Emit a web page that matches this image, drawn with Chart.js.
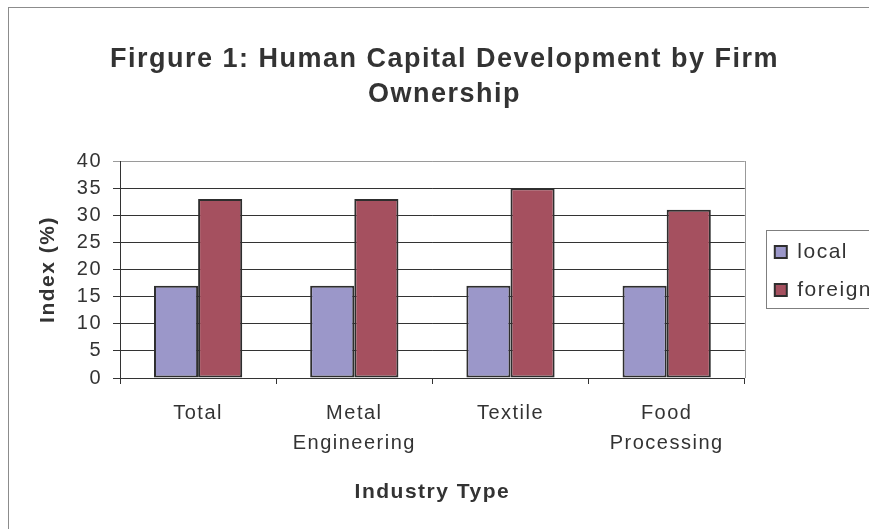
<!DOCTYPE html>
<html>
<head>
    <meta charset="utf-8">
    <title>Human Capital Development by Firm Ownership</title>
    <style>
        body {
            margin: 0;
            background: #ffffff;
        }
        #wrap {
            width: 869px;
            height: 529px;
        }
    </style>
    <script src="https://cdn.jsdelivr.net/npm/chart.js@4.4.1/dist/chart.umd.min.js"></script>
</head>
<body>
    <div id="wrap"><canvas id="hcChart" width="869" height="529"></canvas></div>
    <script>
        const industries = [['Total'], ['Metal', 'Engineering'], ['Textile'], ['Food', 'Processing']];
        const localIndex = [17, 17, 17, 17];
        const foreignIndex = [33, 33, 35, 31];
        const yTicks = [0, 5, 10, 15, 20, 25, 30, 35, 40];

        const SPACING = '1.5px';
        const textColor = '#333333';

        // excel-ish look: letter spacing, outer frame, legend box, right plot edge
        const excelLook = {
            id: 'excelLook',
            beforeUpdate(chart) {
                chart.ctx.letterSpacing = SPACING;
            },
            afterLayout(chart) {
                const lg = chart.legend;
                if (lg) {
                    lg.left += 13;
                    lg.right += 13;
                    lg.top += 1.5;
                    lg.bottom += 1.5;
                }
            },
            beforeDraw(chart) {
                const ctx = chart.ctx;
                ctx.letterSpacing = SPACING;
                ctx.save();
                ctx.fillStyle = '#ffffff';
                ctx.fillRect(0, 0, chart.width, chart.height);
                ctx.strokeStyle = '#8c8c8c';
                ctx.lineWidth = 1;
                ctx.strokeRect(8.5, 7.5, chart.width + 20, chart.height + 20);
                ctx.restore();
            },
            afterDraw(chart) {
                const ctx = chart.ctx;
                const a = chart.chartArea;
                ctx.save();
                ctx.strokeStyle = '#999999';
                ctx.lineWidth = 1;
                ctx.beginPath();
                ctx.moveTo(Math.round(a.right) + 0.5, a.top);
                ctx.lineTo(Math.round(a.right) + 0.5, a.bottom);
                ctx.stroke();

                const hb = chart.legend && chart.legend.legendHitBoxes;
                if (hb && hb.length) {
                    const last = hb[hb.length - 1];
                    const x0 = Math.round(hb[0].left - 9) + 0.5;
                    const y0 = Math.round(hb[0].top - 11.5) + 0.5;
                    const y1 = Math.round(last.top + last.height + 7.5) + 0.5;
                    ctx.strokeStyle = '#7f7f7f';
                    ctx.strokeRect(x0, y0, chart.width - x0 + 10, y1 - y0);
                }
                ctx.restore();
            }
        };

        const ctx = document.getElementById('hcChart').getContext('2d');
        const hcChart = new Chart(ctx, {
            type: 'bar',
            data: {
                labels: industries,
                datasets: [{
                    label: 'local',
                    data: localIndex,
                    backgroundColor: '#9b97c9',
                    borderColor: '#2e2e2e',
                    borderWidth: 2,
                    borderSkipped: false,
                    categoryPercentage: 0.565,
                    barPercentage: 1.0
                }, {
                    label: 'foreign',
                    data: foreignIndex,
                    backgroundColor: '#a5505f',
                    borderColor: '#2e2e2e',
                    borderWidth: 2,
                    borderSkipped: false,
                    categoryPercentage: 0.565,
                    barPercentage: 1.0
                }]
            },
            options: {
                responsive: false,
                animation: false,
                events: [],
                layout: {
                    padding: { left: 20, right: 0, top: 0, bottom: 0 }
                },
                font: {
                    family: "'Liberation Sans', Arial, sans-serif"
                },
                color: textColor,
                plugins: {
                    title: {
                        display: true,
                        text: ['Firgure 1: Human Capital Development by Firm', 'Ownership'],
                        color: textColor,
                        font: { size: 27, weight: 'bold', lineHeight: 35 / 27 },
                        padding: { top: 42.5, bottom: 48.5 }
                    },
                    legend: {
                        display: true,
                        position: 'right',
                        fullSize: false,
                        labels: {
                            color: textColor,
                            font: { size: 21 },
                            boxWidth: 12,
                            boxHeight: 12,
                            padding: 17
                        }
                    },
                    tooltip: { enabled: false }
                },
                scales: {
                    x: {
                        grid: {
                            offset: true,
                            drawOnChartArea: false,
                            drawTicks: true,
                            tickLength: 6,
                            color: '#333333'
                        },
                        border: { display: true, color: '#333333', width: 1 },
                        ticks: {
                            color: textColor,
                            font: { size: 20, lineHeight: 1.5 },
                            padding: 14,
                            maxRotation: 0,
                            autoSkip: false
                        },
                        title: {
                            display: true,
                            text: 'Industry Type',
                            color: textColor,
                            font: { size: 21, weight: 'bold', lineHeight: 1.2 },
                            padding: { top: 0, bottom: 24 }
                        },
                        afterFit(scale) {
                            scale.height = 529 - 378;
                        }
                    },
                    y: {
                        min: 0,
                        max: 40,
                        afterBuildTicks(scale) {
                            scale.ticks = yTicks.map(v => ({ value: v }));
                        },
                        grid: {
                            color: ctx => (ctx.tick && ctx.tick.value === 40 ? '#9a9a9a' : '#333333'),
                            lineWidth: 1,
                            drawTicks: true,
                            tickLength: 7
                        },
                        border: { display: true, color: '#333333', width: 1 },
                        ticks: {
                            color: textColor,
                            font: { size: 20 },
                            padding: 11
                        },
                        title: {
                            display: true,
                            text: 'Index (%)',
                            color: textColor,
                            font: { size: 21, weight: 'bold', lineHeight: 1.2 },
                            padding: { top: 16, bottom: 0 }
                        },
                        afterFit(scale) {
                            scale.width = 100;
                        }
                    }
                }
            },
            plugins: [excelLook]
        });
    </script>
</body>
</html>
